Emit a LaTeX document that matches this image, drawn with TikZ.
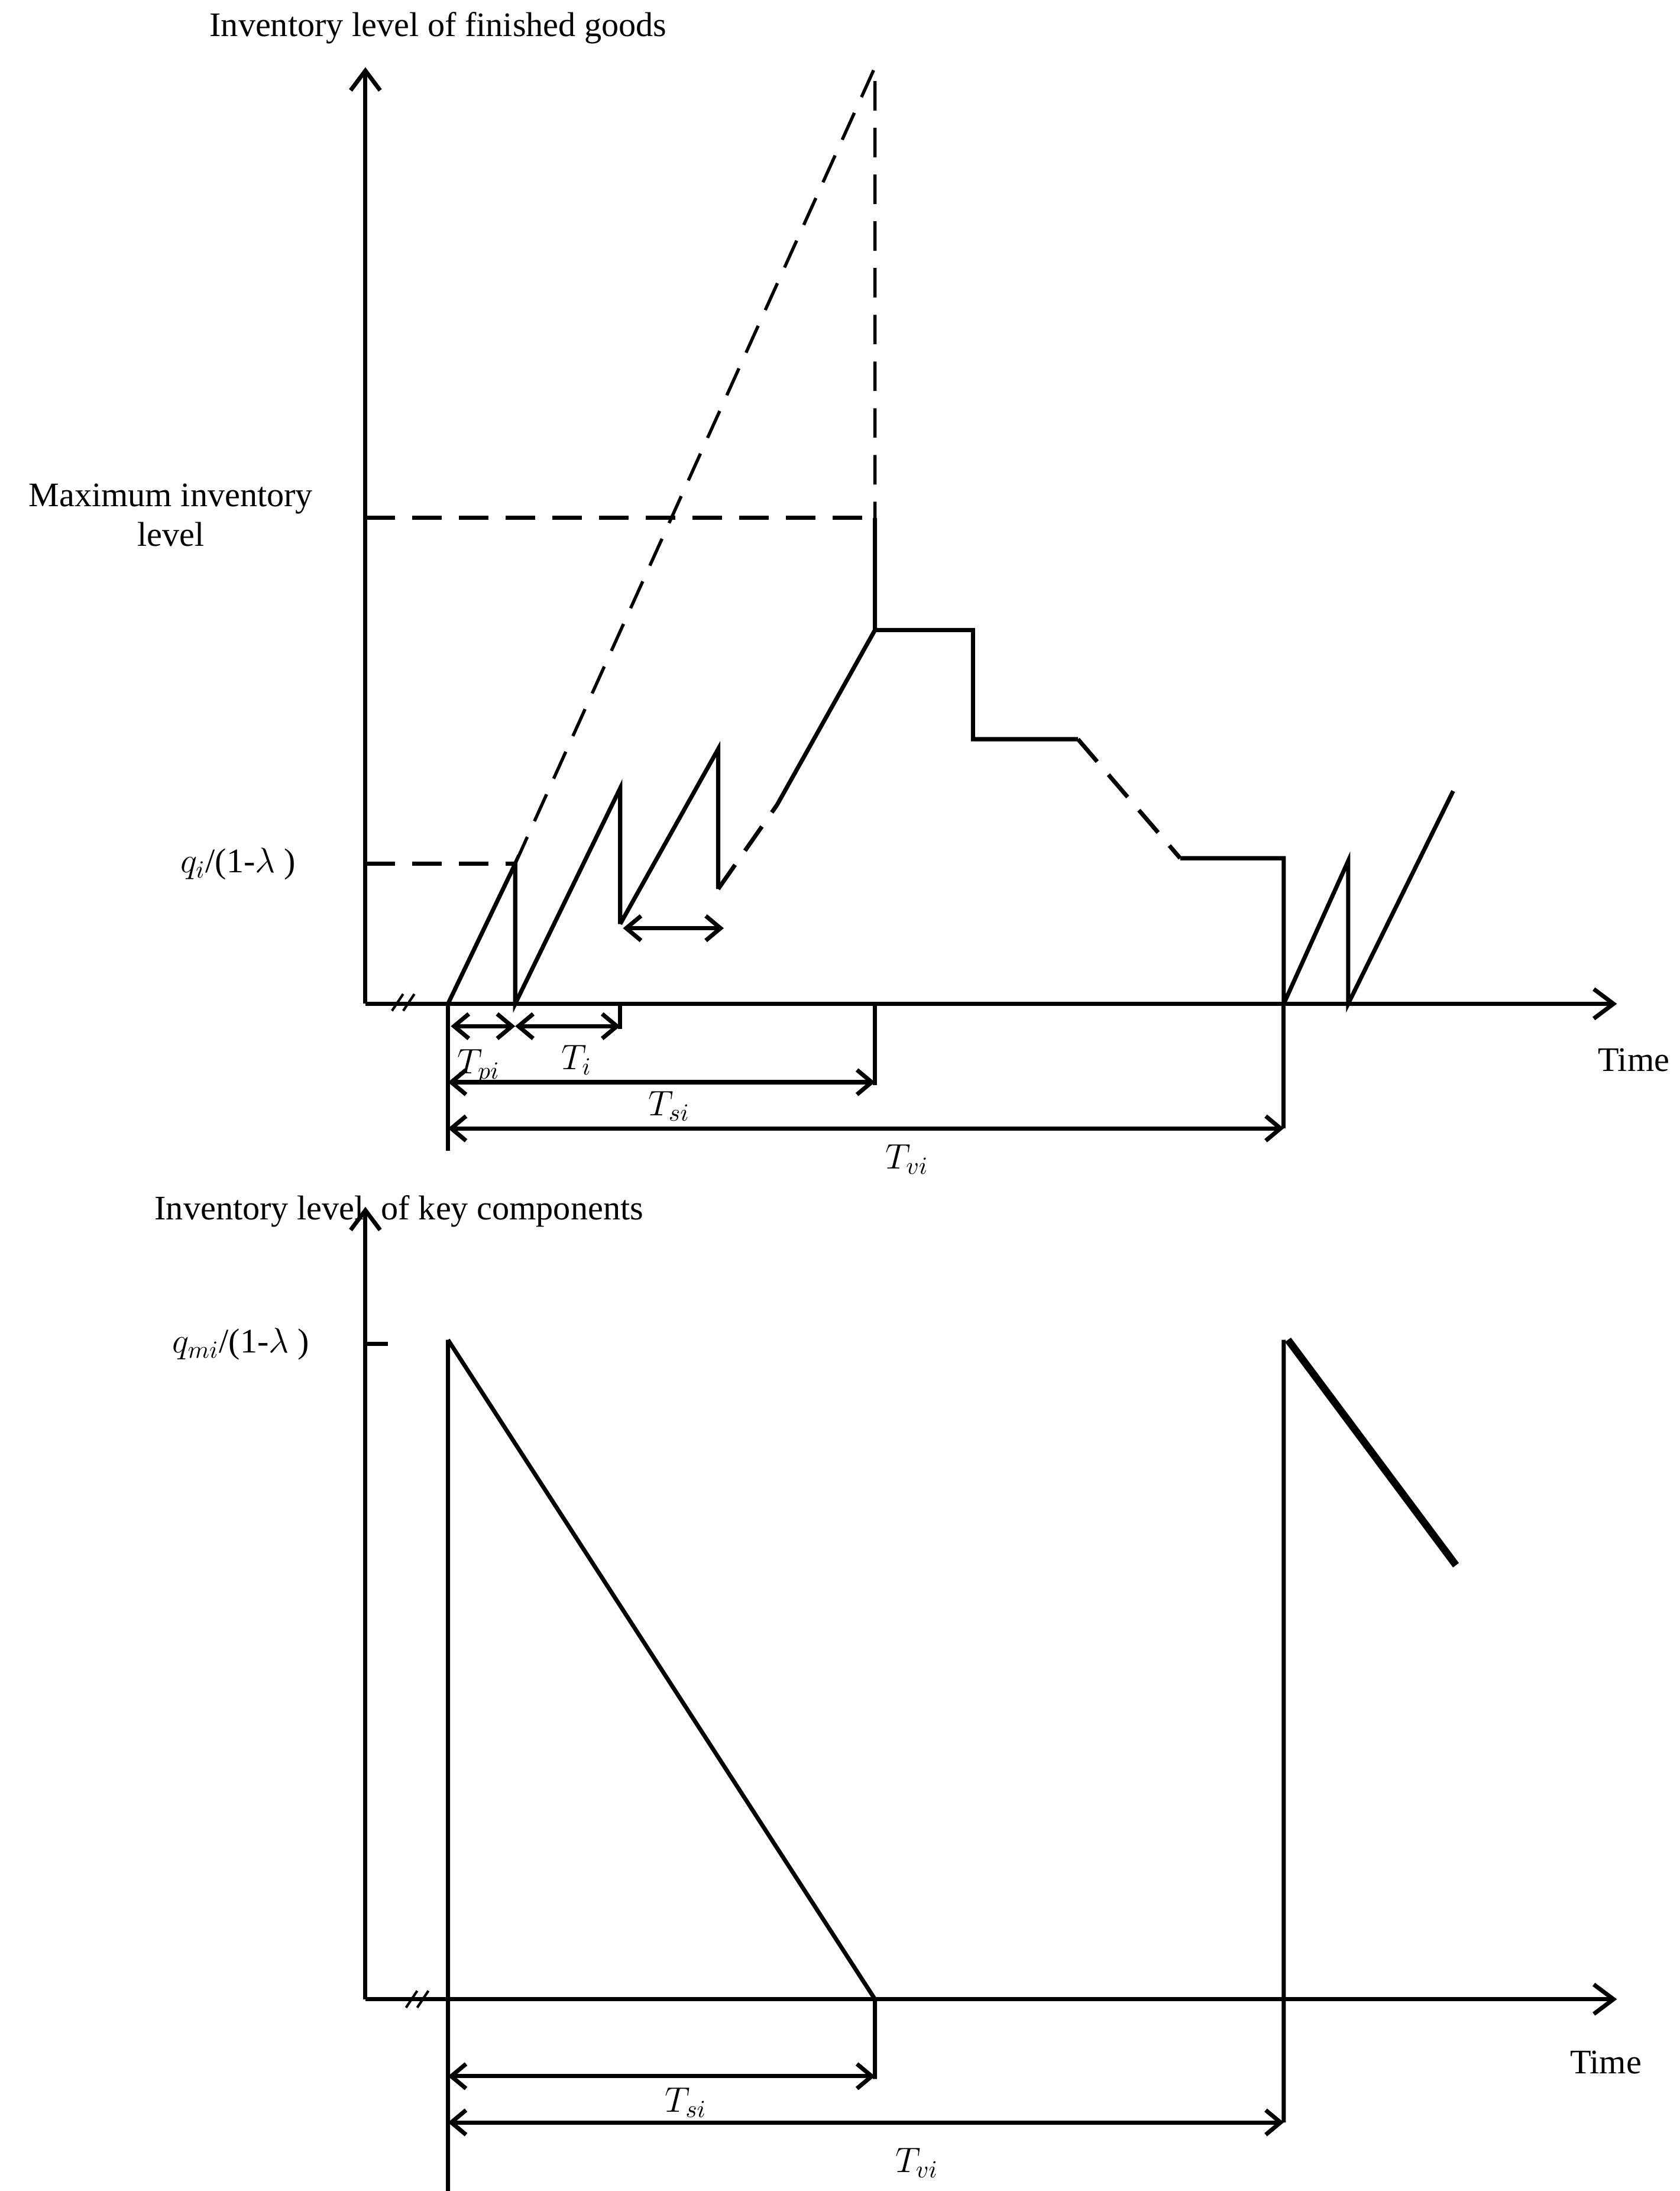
\documentclass[tikz,border=0pt]{standalone}
\usepackage{fontspec}
\setmainfont{Liberation Serif}
\usetikzlibrary{arrows.meta}
\begin{document}
\begin{tikzpicture}[x=0.02cm,y=-0.02cm,
  ln/.style={line width=1.7pt},
  dl/.style={line width=1.7pt,dash pattern=on 12pt off 7pt},
  ax/.style={line width=1.7pt,-{Straight Barb[length=8pt,width=12pt]}},
  da/.style={line width=1.7pt,{Straight Barb[length=6pt,width=10pt]}-{Straight Barb[length=6pt,width=10pt]}},
  lb/.style={font=\fontsize{14}{16}\selectfont,inner sep=0pt}]
\useasboundingbox (0,0) rectangle (1200,1565);
% ---------- top plot ----------
\coordinate (O1) at (261,717);
\coordinate (Y1) at (261,48);
\coordinate (X1) at (1155,717);
\draw[ax] (O1) -- (Y1);
\draw[ax] (O1) -- (X1);
\draw[line width=1pt] (280,722)--(288,710) (288,722)--(296,710);
\node[lb] (t1) at (313,20) {Inventory level of finished goods};
\node[lb] (tm1) at (1167,757) {Time};
\node[lb,align=center] (mx) at (122,368) {Maximum inventory\\level};
\node[lb] (q1) at (170,617) {$q_i$/(1-$\lambda$ )};
\coordinate (A) at (368,617);
\coordinate (P) at (625,48);
\draw[dl] (261,617) -- (A);
\draw[dl] (261,370) -- (625,370);
\draw[line width=1.3pt,dash pattern=on 12pt off 7pt] (A) -- (P) -- (625,370);
\draw[ln] (320,717)--(368,617)--(368,717)--(443,563)--(443,660) (443,660)--(513,535)--(513,635);
\draw[dl] (513,635)--(555,575);
\draw[ln] (555,575)--(625,450) (625,370)--(625,450)--(695,450)--(695,528)--(770,528);
\draw[dl] (770,528)--(843,613);
\draw[ln] (843,613)--(917,613)--(917,717)--(963,615)--(963,717)--(1038,565);
\draw[da] (445,663)--(517,663);
\draw[ln] (443,717)--(443,735);
\draw[da] (322,733)--(368,733);
\draw[da] (368,733)--(443,733);
\node[lb] (tpi) at (342,762) {$T_{pi}$};
\node[lb] (ti) at (412,757) {$T_{i}$};
\draw[ln] (320,717)--(320,822) (625,717)--(625,775) (917,717)--(917,806);
\draw[da] (320,773)--(625,773);
\draw[da] (320,806)--(917,806);
\node[lb] (tsi) at (478,790) {$T_{si}$};
\node[lb] (tvi) at (648,828) {$T_{vi}$};
% ---------- bottom plot ----------
\coordinate (O2) at (261,1428);
\draw[ax] (O2) -- (261,862);
\draw[ax] (O2) -- (1155,1428);
\draw[line width=1pt] (290,1434)--(298,1422) (298,1434)--(306,1422);
\node[lb] (t2) at (285,865) {Inventory level\ \ of key components};
\node[lb] (tm2) at (1147,1473) {Time};
\node[lb] (q2) at (172,960) {$q_{mi}$/(1-$\lambda$ )};
\draw[ln] (261,960)--(277,960);
\draw[ln] (320,957)--(320,1578) (320,957)--(625,1428)--(625,1485) (917,957)--(917,1516);
\draw[line width=3pt] (920,957)--(1040,1118);
\draw[da] (320,1483)--(625,1483);
\draw[da] (320,1516)--(917,1516);
\node[lb] (tsi2) at (490,1502) {$T_{si}$};
\node[lb] (tvi2) at (655,1545) {$T_{vi}$};
\end{tikzpicture}
\end{document}
